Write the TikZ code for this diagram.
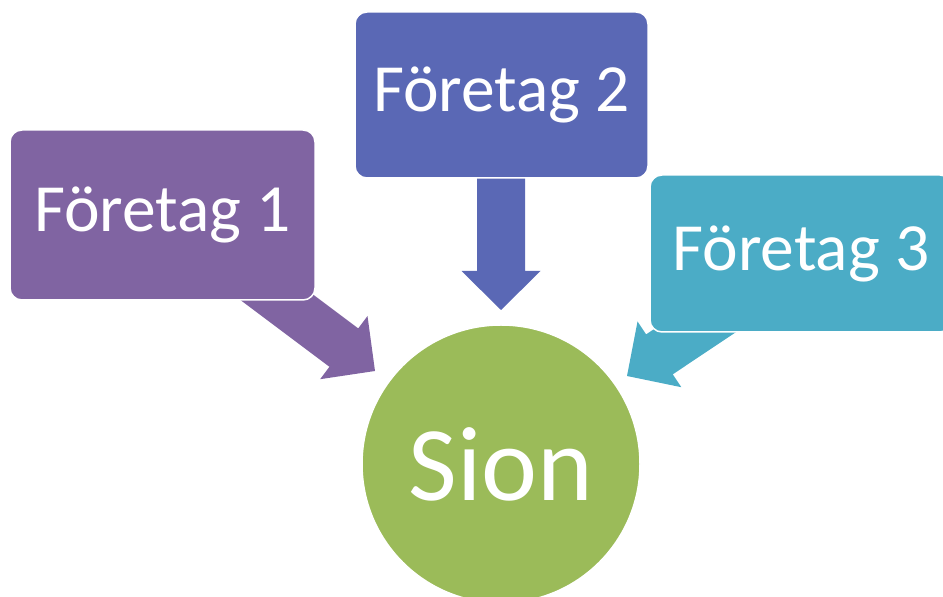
\documentclass[tikz,border=0pt]{standalone}
\usepackage{fontspec}
\setmainfont{Carlito}
\definecolor{cpurple}{HTML}{8064A2}
\definecolor{cblue}{HTML}{5A68B5}
\definecolor{caqua}{HTML}{4BACC6}
\definecolor{cgreen}{HTML}{9BBB59}
\tikzset{
  boxnode/.style={rectangle, rounded corners=12pt, draw=white, line width=1.5pt,
    inner sep=0pt, text=white, font=\fontsize{67.5}{80}\selectfont},
}
\newcommand{\blockarr}[4]{% color, tip, angle, length
  \fill[#1, shift={(#2)}, rotate=#3]
    (0,0) -- (-39,39.5) -- (-39,24) -- (-#4,24) -- (-#4,-24) -- (-39,-24) -- (-39,-39.5) -- cycle;
}
\begin{document}
\begin{tikzpicture}[x=1pt,y=1pt]
\useasboundingbox (0,0) rectangle (943,597);
\clip (0,0) rectangle (943,597);
% arrow tips
\coordinate (t1) at (375,226);
\coordinate (t2) at (501,287);
\coordinate (t3) at (627,221);
% arrows (under boxes)
\blockarr{cpurple}{t1}{-36.87}{160}
\blockarr{cblue}{t2}{-90}{140}
\blockarr{caqua}{t3}{213.7}{150}
% boxes
\node[boxnode, fill=cpurple, minimum width=305pt, minimum height=170pt] (b1) at (162.5,382) {Företag 1};
\node[boxnode, fill=cblue, minimum width=293pt, minimum height=166pt] (b2) at (501.5,502) {Företag 2};
\node[boxnode, fill=caqua, minimum width=302pt, minimum height=157pt] (b3) at (801,343.5) {Företag 3};
% circle
\node[circle, fill=cgreen, draw=white, line width=1.5pt, minimum size=278pt, inner sep=0pt,
  text=white, font=\fontsize{106}{124}\selectfont] (sion) at (501,133) {Sion};
\end{tikzpicture}
\end{document}
